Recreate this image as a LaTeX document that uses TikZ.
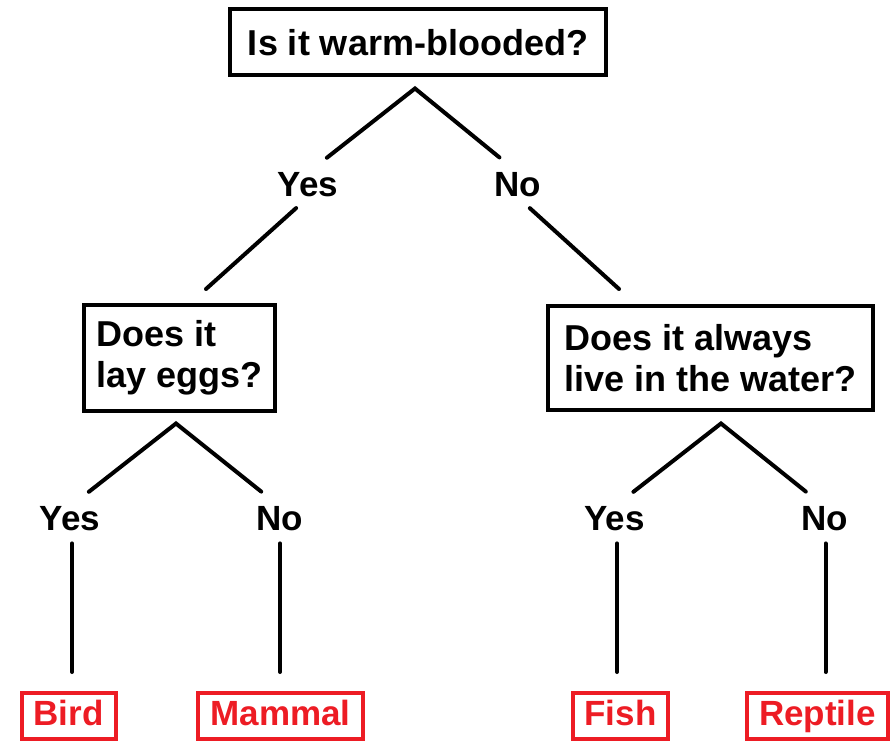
\documentclass[tikz,border=0pt]{standalone}
\usepackage{fontspec}
\setmainfont{Liberation Sans}
\usepackage{xcolor}
\definecolor{leafred}{HTML}{ED1C24}

\begin{document}
\begin{tikzpicture}[x=1pt,y=-1pt,
    question/.style={draw, line width=4pt, align=left, inner sep=0pt,
        font=\fontsize{36}{41}\selectfont\bfseries},
    answer/.style={inner sep=0pt, font=\fontsize{35}{41}\selectfont\bfseries},
    leaf/.style={draw=leafred, text=leafred, line width=4pt, inner xsep=12pt,
        inner ysep=0pt, minimum height=46, text height=25pt, text depth=7pt,
        font=\fontsize{35}{41}\selectfont\bfseries},
    branch/.style={line width=4pt, line cap=round}]
    \useasboundingbox (0,0) rectangle (894,741);

    % first question
    \node[question, minimum width=376, minimum height=66] (warm) at (418,42.5) {Is it warm-blooded?};
    \coordinate (warm fork) at (415,88.5);
    \node[answer] (warm yes) at (308,185) {Yes};
    \node[answer] (warm no) at (518,185) {No};
    \draw[branch, shorten <=24, shorten >=24] (warm yes.north) -- (warm fork) -- (warm no.north);

    % second level
    \node[question, minimum width=191, minimum height=106] (eggs) at (179.5,358) {Does it\\lay eggs?};
    \node[question, minimum width=325, minimum height=104] (water) at (710.5,358) {Does it always\\live in the water?};
    \coordinate (eggs top) at (206,289);
    \coordinate (water top) at (619,289);
    \draw[branch, shorten <=16] (warm yes.south) -- (eggs top);
    \draw[branch, shorten <=16] (warm no.south) -- (water top);

    % answers below the second level
    \coordinate (eggs fork) at (176,423.5);
    \coordinate (water fork) at (721,423.5);
    \node[answer] (eggs yes) at (70,519) {Yes};
    \node[answer] (eggs no) at (280,519) {No};
    \node[answer] (water yes) at (614.5,519) {Yes};
    \node[answer] (water no) at (824.5,519) {No};
    \draw[branch, shorten <=24, shorten >=24] (eggs yes.north) -- (eggs fork) -- (eggs no.north);
    \draw[branch, shorten <=24, shorten >=24] (water yes.north) -- (water fork) -- (water no.north);

    % leaves
    \node[leaf] (bird) at (68.5,716) {Bird};
    \node[leaf] (mammal) at (280.5,716) {Mammal};
    \node[leaf] (fish) at (620.5,716) {Fish};
    \node[leaf] (reptile) at (817.5,716) {Reptile};
    \draw[branch, shorten <=12, shorten >=19] (eggs yes.south -| 72,0) -- (bird.north -| 72,0);
    \draw[branch, shorten <=12, shorten >=19] (eggs no.south) -- (mammal.north -| eggs no);
    \draw[branch, shorten <=12, shorten >=19] (water yes.south -| 617,0) -- (fish.north -| 617,0);
    \draw[branch, shorten <=12, shorten >=19] (water no.south -| 825.5,0) -- (reptile.north -| 825.5,0);
\end{tikzpicture}
\end{document}
